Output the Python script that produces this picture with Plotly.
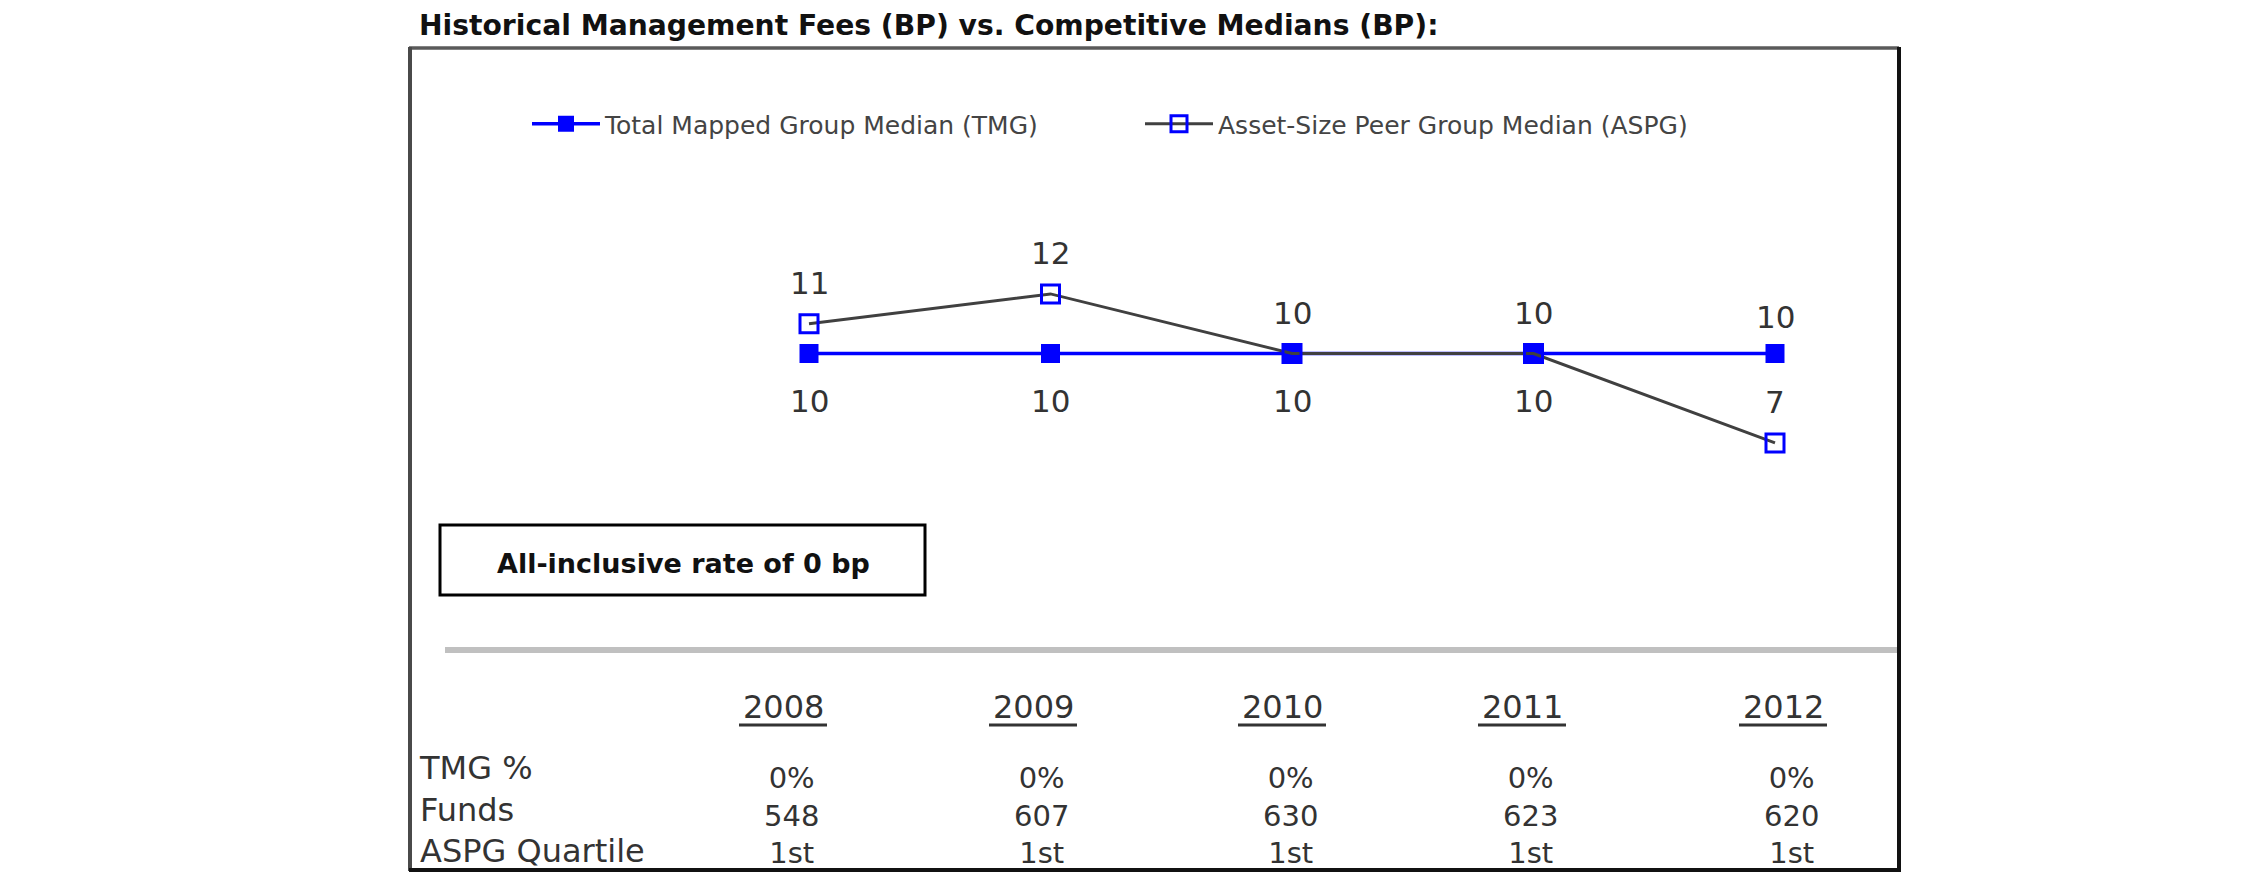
import plotly.graph_objects as go

# ---------------- data ----------------
years = [2008, 2009, 2010, 2011, 2012]
tmg_median = [10, 10, 10, 10, 10]
aspg_median = [11, 12, 10, 10, 7]
tmg_label_side = ["below", "below", "below", "below", "above"]
aspg_label_side = ["above", "above", "above", "above", "above"]
series_names = ["Total Mapped Group Median (TMG)", "Asset-Size Peer Group Median (ASPG)"]
year_labels = ["2008", "2009", "2010", "2011", "2012"]
row_labels = ["TMG %", "Funds", "ASPG Quartile"]
tmg_pct = ["0%", "0%", "0%", "0%", "0%"]
funds = [548, 607, 630, 623, 620]
aspg_quartile = ["1st", "1st", "1st", "1st", "1st"]
title_text = "Historical Management Fees (BP) vs. Competitive Medians (BP):"
rate_text = "All-inclusive rate of 0 bp"

# ---------------- layout constants (pixels) ----------------
W, H = 2250, 895
FONT = "DejaVu Sans"
BLUE = "#0000FF"
GRAY_LINE = "#404040"
TXT = "#333333"


def fx(p):
    return p / W


def fy(p):
    return 1 - p / H


# x axis calibration: first year at 809px, 241.5px per year
X_FIRST_PX, X_STEP = 809, 241.5
xr0 = years[0] - X_FIRST_PX / X_STEP
xr1 = xr0 + W / X_STEP
# y axis calibration: value 10 at 353.5px, 29.8px per unit
Y_REF_VAL, Y_REF_PX, Y_STEP = 10, 353.5, 29.8
yr1 = Y_REF_VAL + Y_REF_PX / Y_STEP
yr0 = yr1 - H / Y_STEP

fig = go.Figure()

fig.add_trace(go.Scatter(
    x=years, y=tmg_median, name=series_names[0], mode="lines+markers",
    line=dict(color=BLUE, width=3.5),
    marker=dict(symbol="square", size=19, color=BLUE),
))
fig.add_trace(go.Scatter(
    x=years, y=aspg_median, name=series_names[1], mode="lines+markers",
    line=dict(color=GRAY_LINE, width=3),
    marker=dict(symbol="square-open", size=18, color=BLUE, line=dict(width=3, color=BLUE)),
))

annotations = []
# data labels
for yr, v, side in zip(years, tmg_median, tmg_label_side):
    annotations.append(dict(
        x=yr, y=v, xref="x", yref="y", text=str(v), showarrow=False,
        yshift=(-47 if side == "below" else 37),
        font=dict(family=FONT, size=31, color=TXT)))
for yr, v, side in zip(years, aspg_median, aspg_label_side):
    annotations.append(dict(
        x=yr, y=v, xref="x", yref="y", text=str(v), showarrow=False,
        yshift=(41 if side == "above" else -47),
        font=dict(family=FONT, size=31, color=TXT)))

# title
annotations.append(dict(
    x=fx(417), y=fy(25), xref="paper", yref="paper", xanchor="left", yanchor="middle",
    text="<b>" + title_text + "</b>", showarrow=False,
    font=dict(family=FONT, size=28.2, color="#111111")))

# rate box text
annotations.append(dict(
    x=fx(683), y=fy(563), xref="paper", yref="paper", xanchor="center", yanchor="middle",
    text="<b>" + rate_text + "</b>", showarrow=False,
    font=dict(family=FONT, size=27, color="#111111")))

# table
TABLE_COL_PX = [783, 1033, 1282, 1522, 1783]
VAL_SHIFT = 8
HEADER_Y = 707
LABEL_BLOCK_Y = 809
VALUE_BLOCK_Y = 815
for cx, lab in zip(TABLE_COL_PX, year_labels):
    annotations.append(dict(
        x=fx(cx), y=fy(HEADER_Y), xref="paper", yref="paper", xanchor="center", yanchor="middle",
        text=lab, showarrow=False, font=dict(family=FONT, size=32, color=TXT)))
annotations.append(dict(
    x=fx(417), y=fy(LABEL_BLOCK_Y), xref="paper", yref="paper", xanchor="left", yanchor="middle",
    align="left", text="<br>".join(row_labels), showarrow=False,
    font=dict(family=FONT, size=32, color=TXT)))
for cx, a, b, c in zip(TABLE_COL_PX, tmg_pct, funds, aspg_quartile):
    annotations.append(dict(
        x=fx(cx + VAL_SHIFT), y=fy(VALUE_BLOCK_Y), xref="paper", yref="paper", xanchor="center",
        yanchor="middle", align="center", text="<br>".join([str(a), str(b), str(c)]),
        showarrow=False, font=dict(family=FONT, size=29, color=TXT)))

shapes = []
# outer frame
shapes.append(dict(type="line", xref="paper", yref="paper", x0=fx(409), x1=fx(1899), y0=fy(48), y1=fy(48),
                   line=dict(color="#5a5a5a", width=3.5)))
shapes.append(dict(type="line", xref="paper", yref="paper", x0=fx(410), x1=fx(410), y0=fy(47), y1=fy(871),
                   line=dict(color="#4a4a4a", width=4)))
shapes.append(dict(type="line", xref="paper", yref="paper", x0=fx(1899), x1=fx(1899), y0=fy(47), y1=fy(872),
                   line=dict(color="#111111", width=4)))
shapes.append(dict(type="line", xref="paper", yref="paper", x0=fx(409), x1=fx(1901), y0=fy(870), y1=fy(870),
                   line=dict(color="#111111", width=4)))
# rate box
shapes.append(dict(type="rect", xref="paper", yref="paper", x0=fx(440), x1=fx(925), y0=fy(525), y1=fy(595),
                   line=dict(color="#000000", width=3), fillcolor="rgba(0,0,0,0)"))
# separator
shapes.append(dict(type="line", xref="paper", yref="paper", x0=fx(445), x1=fx(1897), y0=fy(650), y1=fy(650),
                   line=dict(color="#c0c0c0", width=6)))
# year underlines
for cx in TABLE_COL_PX:
    shapes.append(dict(type="line", xref="paper", yref="paper", x0=fx(cx - 44), x1=fx(cx + 44),
                       y0=fy(725), y1=fy(725), line=dict(color="#333333", width=3)))

fig.update_layout(
    width=W, height=H,
    margin=dict(l=0, r=0, t=0, b=0),
    paper_bgcolor="white", plot_bgcolor="white",
    xaxis=dict(range=[xr0, xr1], visible=False, showgrid=False, zeroline=False, domain=[0, 1]),
    yaxis=dict(range=[yr0, yr1], visible=False, showgrid=False, zeroline=False, domain=[0, 1]),
    showlegend=True,
    legend=dict(orientation="h", x=fx(527), y=fy(124), xanchor="left", yanchor="middle",
                bgcolor="rgba(0,0,0,0)", borderwidth=0, itemwidth=68,
                entrywidth=530, entrywidthmode="pixels",
                font=dict(family=FONT, size=25, color="#444444")),
    annotations=annotations,
    shapes=shapes,
)

fig.write_html("out.html")
